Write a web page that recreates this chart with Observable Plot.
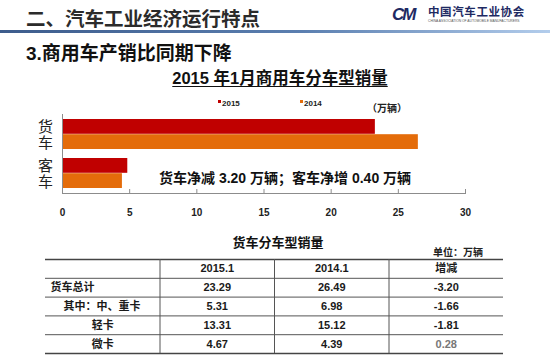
<!DOCTYPE html>
<html><head><meta charset="utf-8">
<script src="https://cdn.jsdelivr.net/npm/d3@7"></script>
<script src="https://cdn.jsdelivr.net/npm/@observablehq/plot@0.6"></script>
<style>
body{margin:0;background:#fff;}
#page{position:relative;width:550px;height:356px;overflow:hidden;font-family:"Liberation Sans","Noto Sans CJK SC",sans-serif;color:#1a1a1a;background:#fff;}
.abs{position:absolute;white-space:nowrap;line-height:1;}
#bars,#table{position:absolute;left:0;}
#bars{top:100px;} #table{top:255px;}
.sq{display:inline-block;width:3px;height:3px;margin-right:1px;vertical-align:middle;position:relative;top:-2px;}
</style></head><body><div id="page">
<div class="abs" style="left:26px;top:10px;font-size:19.5px;font-weight:bold;color:#2b2b2b">二、汽车工业经济运行特点</div>
<div class="abs" style="left:0;top:30px;width:550px;height:2.5px;background:linear-gradient(90deg,#3d5c8c,#5b7fb0 55%,#b3cdec)"></div>
<div class="abs" style="left:392px;top:6px;font-size:17px;font-weight:bold;font-style:italic;color:#1e2a63;letter-spacing:-2px;">CM</div>
<div class="abs" style="left:428px;top:7px;font-size:11.5px;font-weight:bold;color:#1e2a63;letter-spacing:0.6px;">中国汽车工业协会</div>
<div class="abs" style="left:428px;top:20px;font-size:3.3px;color:#555;">CHINA ASSOCIATION OF AUTOMOBILE MANUFACTURERS</div>
<div class="abs" style="left:26px;top:43.5px;font-size:19px;font-weight:bold;color:#111">3.商用车产销比同期下降</div>
<div class="abs" style="left:0;width:560px;text-align:center;top:70px;font-size:16.5px;font-weight:bold;color:#111;text-decoration:underline;text-underline-offset:2px;">2015 年1月商用车分车型销量</div>
<div class="abs" id="legend" style="top:100px;font-size:8px;font-weight:bold;color:#222"></div>
<div class="abs" style="left:367px;top:104px;font-size:10px;font-weight:bold;color:#222">（万辆）</div>
<div id="bars"></div>
<div class="abs" style="left:159px;top:171px;font-size:14px;font-weight:bold;color:#111">货车净减 3.20 万辆；客车净增 0.40 万辆</div>
<div class="abs" style="left:0;width:556px;text-align:center;top:236px;font-size:13px;font-weight:bold;color:#111">货车分车型销量</div>
<div class="abs" style="left:433px;top:248px;font-size:10px;font-weight:bold;color:#222">单位：万辆</div>
<div id="table"></div>
</div>
<script>
// Bar chart data
const categories = ["货车", "客车"];
const years = ["2015", "2014"];
const yearColors = ["#c00000", "#e46c0a"];
const sales2015 = [23.29, 4.86];
const sales2014 = [26.49, 4.46];
const xTicks = [0, 5, 10, 15, 20, 25, 30];

// Table data
const tableColumns = ["", "2015.1", "2014.1", "增减"];
const truckTypes = ["货车总计", "其中：中、重卡", "轻卡", "微卡"];
const truck2015 = [23.29, 5.31, 13.31, 4.67];
const truck2014 = [26.49, 6.98, 15.12, 4.39];
const truckChange = [-3.20, -1.66, -1.81, 0.28];

const font = '"Liberation Sans","Noto Sans CJK SC",sans-serif';

// legend
const legend = document.getElementById("legend");
const legendX = [218, 300];
years.forEach((y, i) => {
  const s = document.createElement("span");
  s.style.position = "absolute"; s.style.left = legendX[i] + "px"; s.style.top = "0px";
  s.innerHTML = `<span class="sq" style="background:${yearColors[i]}"></span>${y}`;
  legend.appendChild(s);
});

const barRows = categories.flatMap((c, i) => [
  {category: c, year: years[0], value: sales2015[i]},
  {category: c, year: years[1], value: sales2014[i]}
]);

const bars = Plot.plot({
  width: 550, height: 125,
  marginLeft: 62, marginRight: 85, marginTop: 14, marginBottom: 32,
  style: {fontFamily: font, background: "transparent", overflow: "visible"},
  x: {domain: [0, 30], label: null},
  y: {domain: categories, paddingInner: 0.23, paddingOuter: 0.115, axis: null},
  marks: [
    Plot.barX(barRows.filter(d => d.year === years[0]), {x: "value", y: "category", fill: yearColors[0], insetBottom: 15.2}),
    Plot.barX(barRows.filter(d => d.year === years[1]), {x: "value", y: "category", fill: yearColors[1], insetTop: 15.2}),
    Plot.ruleX([0], {stroke: "#8c8c8c"}),
    Plot.frame({anchor: "bottom", stroke: "#8c8c8c"}),
    Plot.axisX({ticks: xTicks, tickSize: 4, dy: -4, tickPadding: 15, stroke: "#8c8c8c", fill: "#222", fontSize: 10, fontWeight: "bold", label: null}),
    Plot.text(categories, {y: d => d, text: d => d.split("").join("\n"), frameAnchor: "left", textAnchor: "middle", dx: -17, fontSize: 15, lineHeight: 1.1, fill: "#222"})
  ]
});
document.getElementById("bars").appendChild(bars);

// table cells
const cells = [];
tableColumns.forEach((c, j) => { if (c) cells.push({row: 0, col: j, text: c}); });
truckTypes.forEach((t, i) => {
  [truck2015, truck2014, truckChange].forEach((arr, k) =>
    cells.push({row: i + 1, col: k + 1, text: arr[i].toFixed(2)}));
});
const labelCells = truckTypes.map((t, i) => ({row: i + 1, level: i, text: t}));

const table = Plot.plot({
  width: 550, height: 101,
  marginLeft: 45, marginRight: 47, marginTop: 4, marginBottom: 3,
  style: {fontFamily: font, background: "transparent", overflow: "visible"},
  x: {domain: [0, 4], axis: null},
  y: {domain: [0, 5], reverse: true, axis: null},
  marks: [
    Plot.ruleY([0, 5], {stroke: "#444", strokeWidth: 1.6}),
    Plot.ruleY([1, 2, 3, 4], {stroke: "#555", strokeWidth: 1}),
    Plot.ruleX([1, 2, 3], {stroke: "#555", strokeWidth: 1}),
    Plot.text(cells, {x: d => d.col + 0.5, y: d => d.row + 0.5, text: "text", fontSize: 11, fontWeight: "bold",
      fill: d => (d.row === 4 && d.col === 3) ? "#777" : "#1a1a1a"}),
    Plot.text(labelCells.filter(d => d.level === 0), {x: 0, y: d => d.row + 0.5, text: "text", textAnchor: "start", dx: 5, fontSize: 11, fontWeight: "bold", fill: "#1a1a1a"}),
    Plot.text(labelCells.filter(d => d.level === 1), {x: 0, y: d => d.row + 0.5, text: "text", textAnchor: "start", dx: 18, fontSize: 11, fontWeight: "bold", fill: "#1a1a1a"}),
    Plot.text(labelCells.filter(d => d.level > 1), {x: 0.5, y: d => d.row + 0.5, text: "text", fontSize: 11, fontWeight: "bold", fill: "#1a1a1a"})
  ]
});
document.getElementById("table").appendChild(table);
</script>
</body></html>
